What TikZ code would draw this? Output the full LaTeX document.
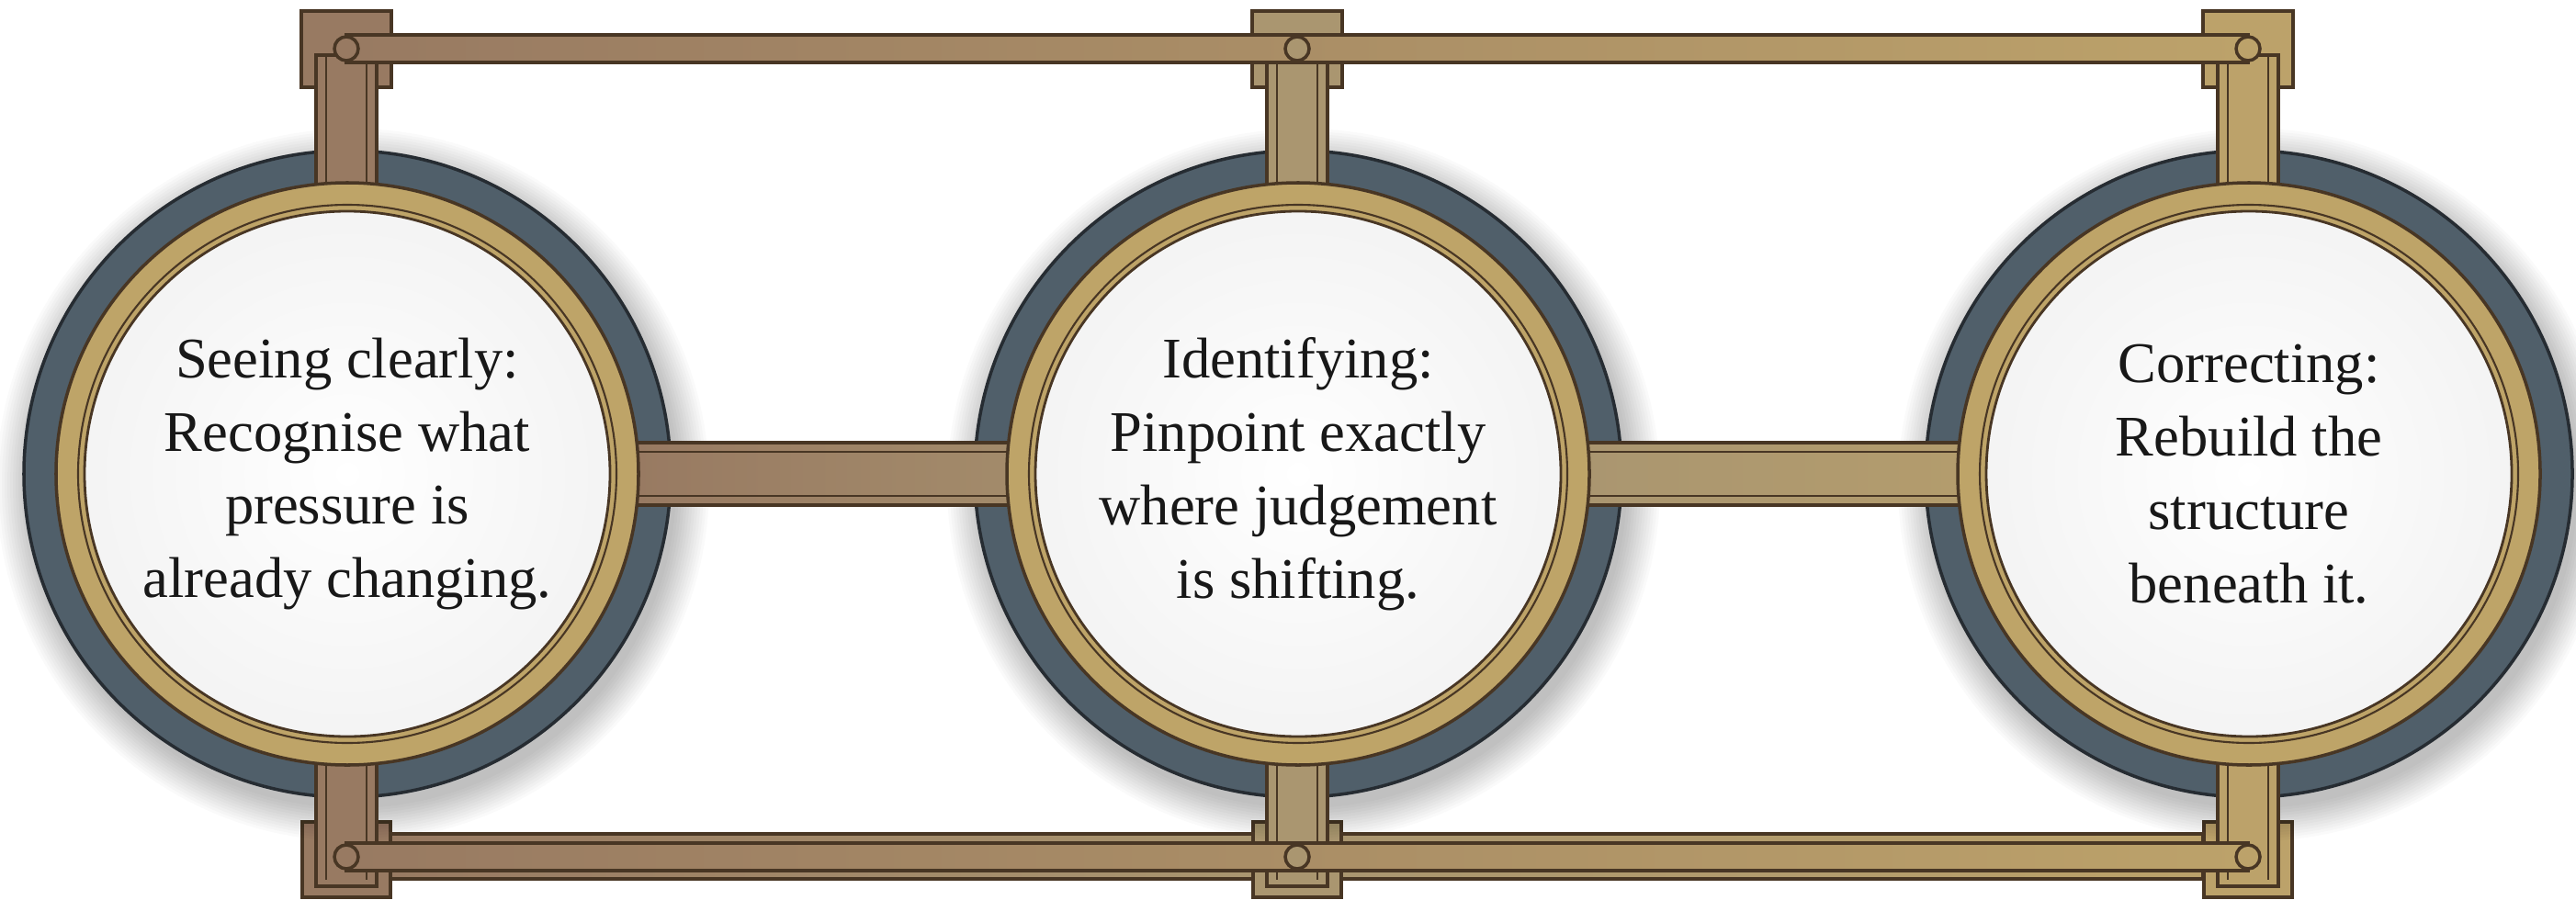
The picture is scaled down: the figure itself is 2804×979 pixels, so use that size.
\documentclass[tikz,border=0pt]{standalone}
\usepackage{fontspec}
\setmainfont{Liberation Serif}
\usepackage{xcolor}

\definecolor{slate}{RGB}{80,95,106}
\definecolor{slateline}{RGB}{38,44,50}
\definecolor{gold}{RGB}{190,164,104}
\definecolor{brassline}{RGB}{72,54,36}
\definecolor{brassA}{RGB}{152,122,98}
\definecolor{brassB}{RGB}{170,150,112}
\definecolor{brassC}{RGB}{188,162,106}
\definecolor{ink}{RGB}{24,24,24}

\tikzset{
  ring/.style={fill=slate, draw=slateline, line width=1pt},
  goldring/.style={fill=gold, draw=brassline, line width=1pt},
  disc/.style={draw=brassline, line width=0.8pt, inner color=white, outer color=gray!9},
  brass/.style={draw=brassline, line width=1pt},
  ringtext/.style={align=center, text=ink, font=\fontsize{17.8}{22.7}\selectfont}
}

\begin{document}
\begin{tikzpicture}[x=0.01cm, y=-0.01cm]
	\useasboundingbox (0,0) rectangle (2804,979);
	\fill[white] (0,0) rectangle (2804,979);
	% brackets behind
	\foreach \cx/\cc in {377/brassA, 1412/brassB, 2447/brassC}{
		\draw[brass, fill=\cc] (\cx-49,12) rectangle (\cx+49,95);
		\draw[brass, fill=\cc] (\cx-48,895) rectangle (\cx+48,977);
	}
	% shadows and outer rings
	\foreach \cx in {378,1413,2448}{
		\foreach \r in {352,355,...,388} \fill[black, opacity=0.018] (\cx+6,528) circle (\r);
		\draw[ring] (\cx,516) circle (352);
	}
	% posts
	\foreach \cx/\cc in {377/brassA, 1412/brassB, 2447/brassC}{
		\draw[brass, fill=\cc] (\cx-33,60) rectangle (\cx+33,210);
		\draw[brassline] (\cx-22,60) -- (\cx-22,210) (\cx+22,60) -- (\cx+22,210);
		\draw[brass, fill=\cc] (\cx-33,822) rectangle (\cx+33,965);
		\draw[brassline] (\cx-22,822) -- (\cx-22,958) (\cx+22,822) -- (\cx+22,958);
	}
	% links between the rings
	\draw[brass, left color=brassA, right color=brassA!40!brassB] (690,482) rectangle (1100,550);
	\draw[brassline] (690,492) -- (1100,492) (690,540) -- (1100,540);
	\draw[brass, left color=brassB, right color=brassB!50!brassC] (1725,482) rectangle (2135,550);
	\draw[brassline] (1725,492) -- (2135,492) (1725,540) -- (2135,540);
	% gold rings and faces
	\foreach \cx in {378,1413,2448}{
		\draw[goldring] (\cx,516) circle (317);
		\draw[brassline, line width=0.6pt] (\cx,516) circle (293);
		\draw[disc] (\cx,516) circle (286);
	}
	% rails
	\draw[brass, left color=brassA, right color=brassC] (377,38) rectangle (2447,68);
	\draw[brass, left color=brassA, right color=brassB] (425,908) rectangle (1364,957);
	\draw[brass, left color=brassB, right color=brassC] (1460,908) rectangle (2398,957);
	\draw[brass, left color=brassA, right color=brassC] (377,918) rectangle (2447,948);
	\foreach \cx/\cc in {377/brassA, 1412/brassB, 2447/brassC}{
		\draw[brass, fill=\cc] (\cx,53) circle (13);
		\draw[brass, fill=\cc] (\cx,933) circle (13);
	}
	% texts
	\node[ringtext] (seeing) at (378,516) {Seeing clearly:\\Recognise what\\pressure is\\already changing.};
	\node[ringtext] (identifying) at (1413,516) {Identifying:\\Pinpoint exactly\\where judgement\\is shifting.};
	\node[ringtext] (correcting) at (2448,516) {Correcting:\\Rebuild the\\structure\\beneath it.};
\end{tikzpicture}
\end{document}
